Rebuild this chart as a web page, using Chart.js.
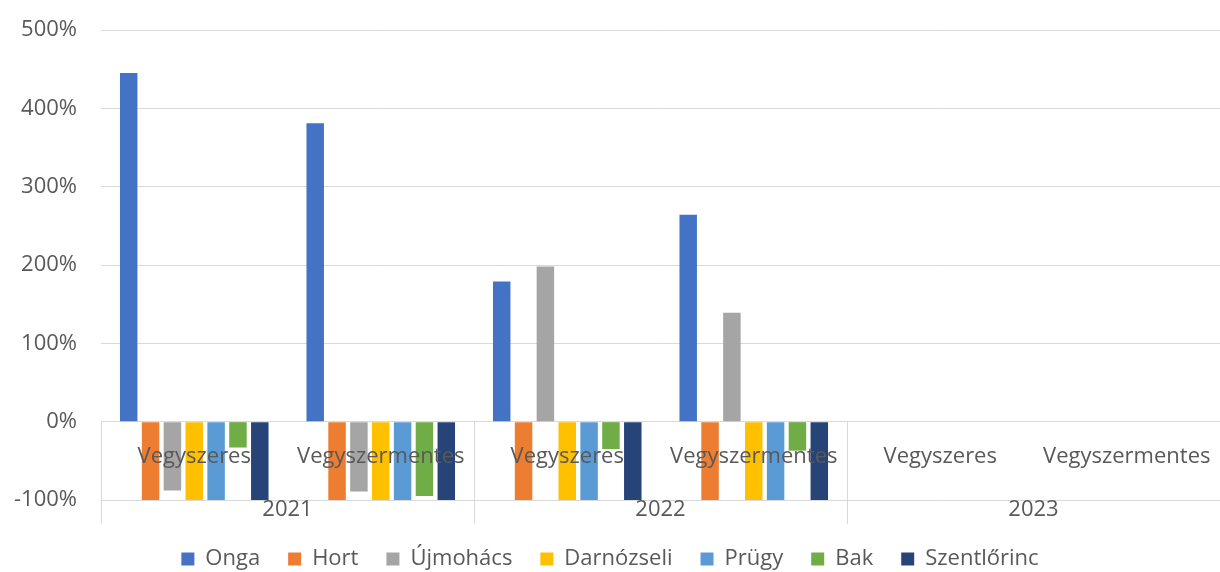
<!DOCTYPE html>
<html>
<head>
<meta charset="utf-8">
<script src="https://cdn.jsdelivr.net/npm/chart.js@4"></script>
<style>
  html, body { margin: 0; padding: 0; overflow: hidden; background: #fff; }
  #wrap { width: 1220px; height: 580px; }
</style>
</head>
<body>
<div id="wrap"><canvas id="grafico" width="1220" height="580"></canvas></div>
<script>
// Kategóriák (belső szint) és évek (külső szint)
const kategoriak = ['Vegyszeres', 'Vegyszermentes', 'Vegyszeres', 'Vegyszermentes', 'Vegyszeres', 'Vegyszermentes'];
const evek = ['2021', '2022', '2023'];

// Változás százalékban, településenként
const onga = [445, 381, 179, 264, null, null];
const hort = [-100, -100, -100, -100, null, null];
const ujmohacs = [-88, -89, 198, 139, null, null];
const darnozseli = [-100, -100, -100, -100, null, null];
const prugy = [-100, -100, -100, -100, null, null];
const bak = [-33, -95, -35, -37, null, null];
const szentlorinc = [-100, -100, -100, -100, null, null];

const yTicks = [-100, 0, 100, 200, 300, 400, 500];

const szurke = '#595959';
const betu = '"Open Sans", sans-serif';

// Kétszintű kategóriatengely: feliratok és elválasztók
const tengelyPlugin = {
    id: 'tengely',
    afterDatasetsDraw(chart) {
        const ctx = chart.ctx;
        const x = chart.scales.x;
        const y = chart.scales.y;
        const area = chart.chartArea;
        const y0 = y.getPixelForValue(0);
        const lent = area.bottom + 24;
        const lepes = (area.right - area.left) / kategoriak.length;

        ctx.save();
        ctx.font = '22px ' + betu;
        ctx.fillStyle = szurke;
        ctx.textAlign = 'center';
        ctx.textBaseline = 'middle';
        kategoriak.forEach((k, i) => {
            ctx.fillText(k, x.getPixelForValue(i), y0 + 35);
        });

        ctx.strokeStyle = '#d9d9d9';
        ctx.lineWidth = 1;
        for (let j = 0; j <= evek.length; j++) {
            const px = Math.round(area.left + j * 2 * lepes) + 0.5;
            ctx.beginPath();
            ctx.moveTo(px, y0);
            ctx.lineTo(px, lent);
            ctx.stroke();
        }

        evek.forEach((ev, j) => {
            const px = area.left + (j * 2 + 1) * lepes;
            ctx.fillText(ev, px, area.bottom + 10);
        });
        ctx.restore();
    }
};

function sorozat(nev, adatok, szin) {
    return {
        label: nev,
        data: adatok,
        backgroundColor: szin,
        borderWidth: 0,
        categoryPercentage: 0.82,
        barPercentage: 0.8
    };
}

const ctx = document.getElementById('grafico').getContext('2d');
new Chart(ctx, {
    type: 'bar',
    data: {
        labels: kategoriak,
        datasets: [
            sorozat('Onga', onga, '#4472C4'),
            sorozat('Hort', hort, '#ED7D31'),
            sorozat('Újmohács', ujmohacs, '#A5A5A5'),
            sorozat('Darnózseli', darnozseli, '#FFC000'),
            sorozat('Prügy', prugy, '#5B9BD5'),
            sorozat('Bak', bak, '#70AD47'),
            sorozat('Szentlőrinc', szentlorinc, '#264478')
        ]
    },
    options: {
        responsive: false,
        animation: false,
        layout: {
            padding: { top: 30, right: 0, left: 0, bottom: 0 }
        },
        plugins: {
            legend: {
                position: 'bottom',
                labels: {
                    boxWidth: 13,
                    boxHeight: 13,
                    padding: 28,
                    color: szurke,
                    font: { family: betu, size: 22 }
                }
            },
            tooltip: { enabled: false }
        },
        scales: {
            x: {
                offset: true,
                grid: { display: false },
                border: { display: false },
                ticks: { display: false },
                afterFit: function(scale) {
                    scale.height = 20;
                }
            },
            y: {
                min: -100,
                max: 500,
                afterBuildTicks: function(scale) {
                    scale.ticks = yTicks.map(v => ({ value: v }));
                },
                afterFit: function(scale) {
                    scale.width = 101;
                    scale.paddingTop = 0;
                    scale.paddingBottom = 0;
                },
                grid: {
                    color: '#d9d9d9',
                    drawTicks: false
                },
                border: { display: false },
                ticks: {
                    color: szurke,
                    padding: 24,
                    font: { family: betu, size: 22 },
                    callback: function(value) {
                        return value + '%';
                    }
                }
            }
        }
    },
    plugins: [tengelyPlugin]
});
</script>
</body>
</html>
